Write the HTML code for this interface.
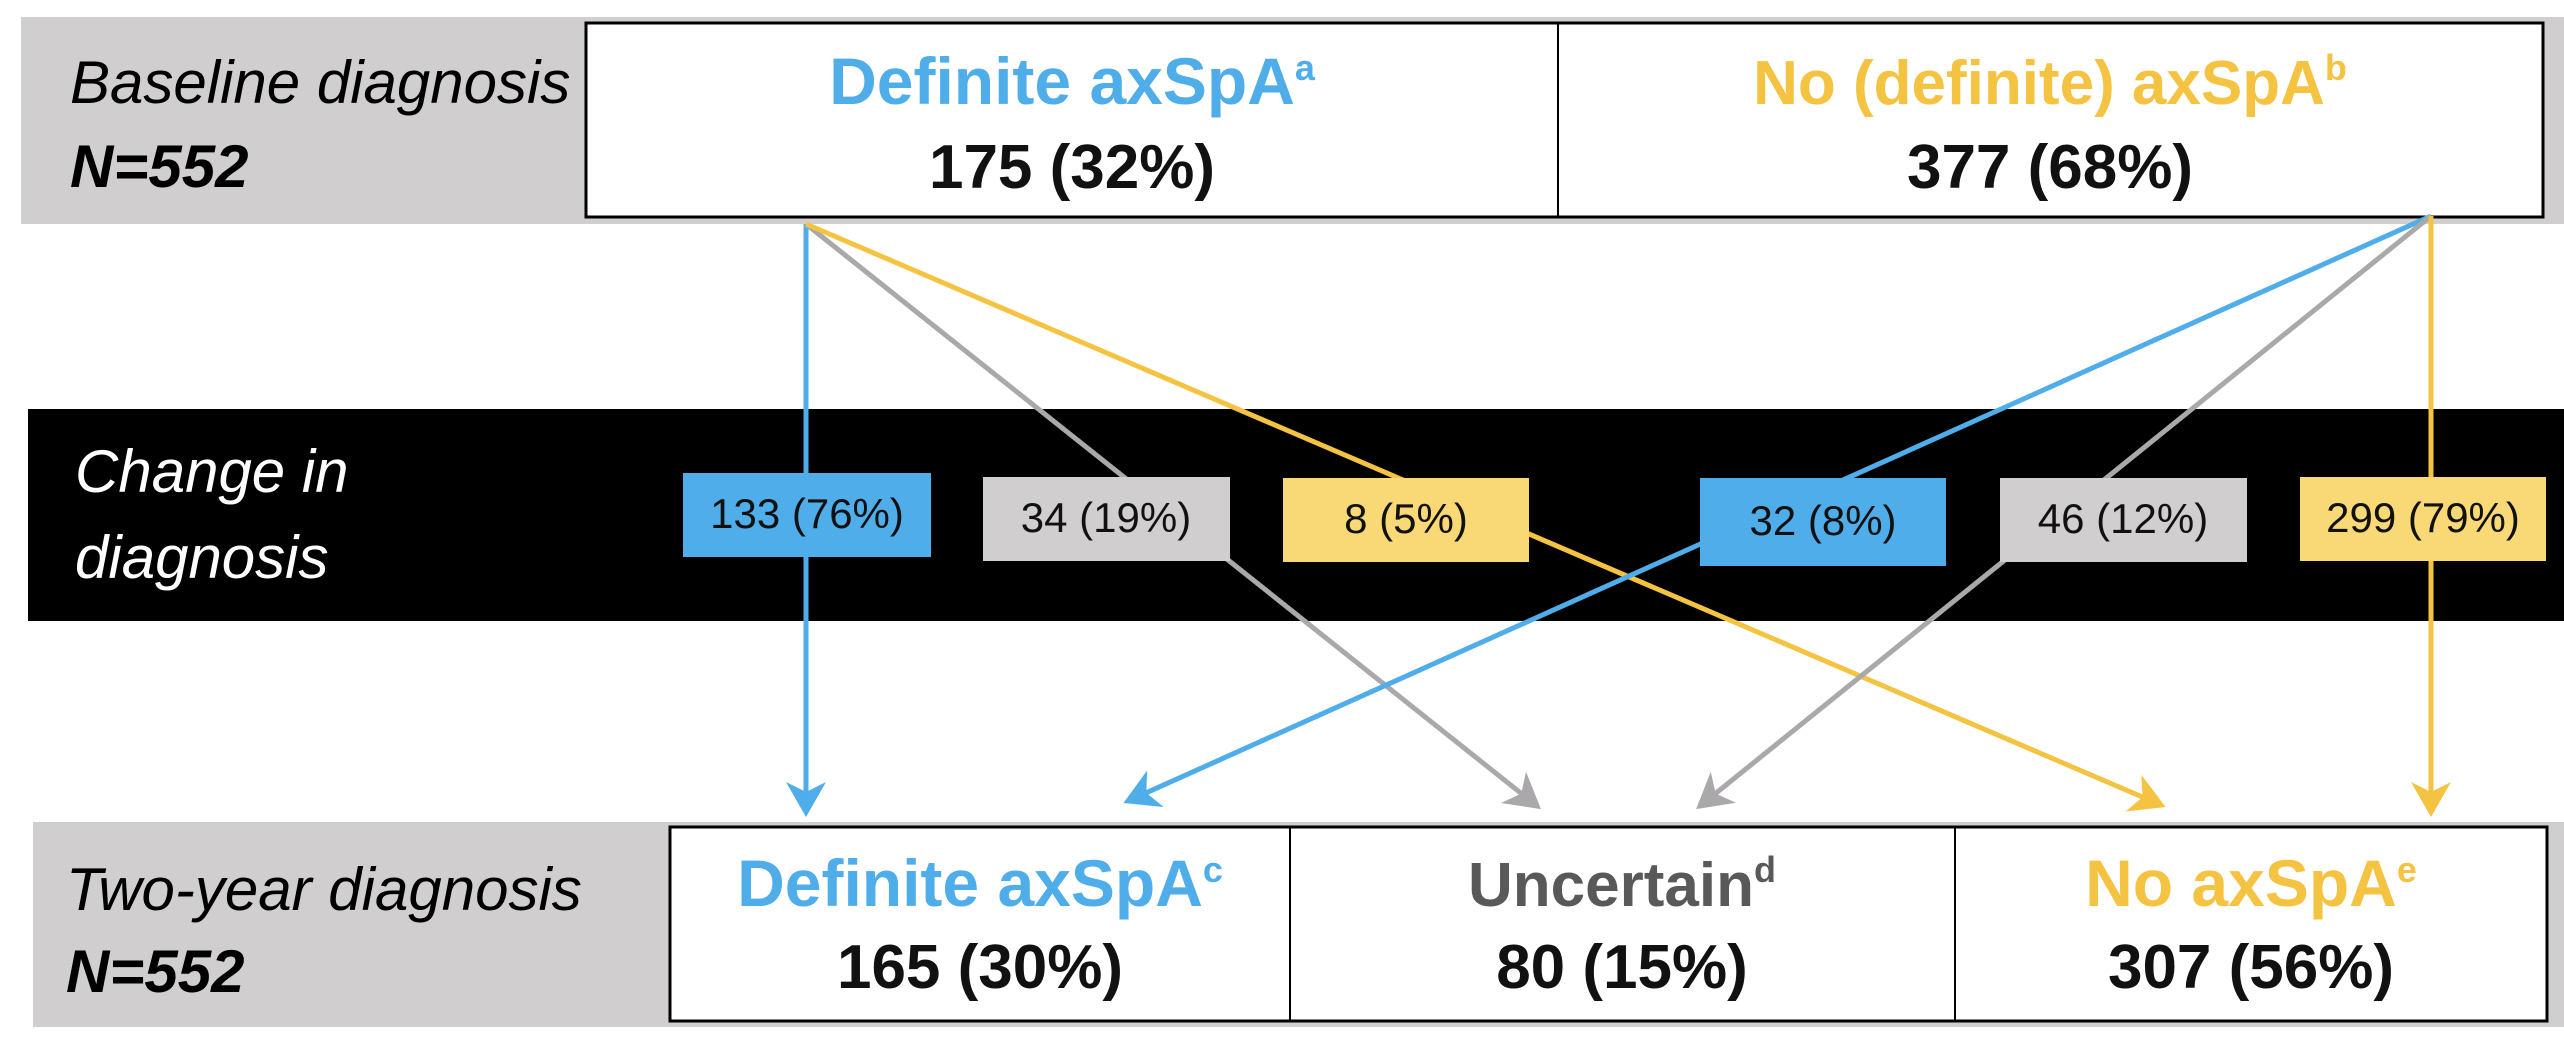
<!DOCTYPE html>
<html><head><meta charset="utf-8"><style>
body{margin:0;background:#fff;}
svg text{font-family:"Liberation Sans Narrow","Liberation Sans",sans-serif;}
</style></head><body>
<svg width="2564" height="1040" viewBox="0 0 2564 1040">
<defs>
<marker id="mb" markerWidth="8" markerHeight="8" refX="6" refY="4" orient="auto" markerUnits="strokeWidth"><path d="M0,0 L7,4 L0,8 L2,4 z" fill="#4fadea"/></marker>
<marker id="mg" markerWidth="8" markerHeight="8" refX="6" refY="4" orient="auto" markerUnits="strokeWidth"><path d="M0,0 L7,4 L0,8 L2,4 z" fill="#aaa8aa"/></marker>
<marker id="my" markerWidth="8" markerHeight="8" refX="6" refY="4" orient="auto" markerUnits="strokeWidth"><path d="M0,0 L7,4 L0,8 L2,4 z" fill="#f5c342"/></marker>
</defs>
<rect x="21" y="17" width="2543" height="207" fill="#d0cecf"/>
<rect x="28" y="409" width="2536" height="212" fill="#000"/>
<rect x="33" y="822" width="2531" height="205" fill="#d0cecf"/>
<g>
<text x="70" y="103" font-size="60" font-style="italic">Baseline diagnosis</text>
<text x="70" y="187" font-size="60" font-style="italic" font-weight="bold">N=552</text>
</g>
<rect x="586" y="23" width="1957" height="194" fill="#fff" stroke="#000" stroke-width="3"/>
<line x1="1558" y1="23" x2="1558" y2="217" stroke="#000" stroke-width="2"/>
<g text-anchor="middle" font-weight="bold" font-size="62">
<text x="1072" y="104" fill="#4fadea" font-size="66">Definite axSpA<tspan font-size="36" dy="-24">a</tspan></text>
<text x="1072" y="188" fill="#111">175 (32%)</text>
<text x="2050" y="104" fill="#f5c342">No (definite) axSpA<tspan font-size="36" dy="-24">b</tspan></text>
<text x="2050" y="188" fill="#111">377 (68%)</text>
</g>
<g>
<text x="75" y="492" font-size="60" font-style="italic" fill="#fff">Change in</text>
<text x="75" y="578" font-size="60" font-style="italic" fill="#fff">diagnosis</text>
</g>
<g stroke-width="5" fill="none">
<line x1="806" y1="224" x2="806" y2="812" stroke="#4fadea" marker-end="url(#mb)"/>
<line x1="806" y1="224" x2="1537" y2="806" stroke="#aaa8aa" marker-end="url(#mg)"/>
<line x1="806" y1="224" x2="2161" y2="805" stroke="#f5c342" marker-end="url(#my)"/>
<line x1="2431" y1="216" x2="1128" y2="801" stroke="#4fadea" marker-end="url(#mb)"/>
<line x1="2431" y1="216" x2="1700" y2="806" stroke="#aaa8aa" marker-end="url(#mg)"/>
<line x1="2431" y1="216" x2="2431" y2="812" stroke="#f5c342" marker-end="url(#my)"/>
</g>
<g font-size="42" text-anchor="middle" fill="#111">
<rect x="683" y="473" width="248" height="84" fill="#4fadea"/>
<text x="807" y="528">133 (76%)</text>
<rect x="983" y="477" width="247" height="84" fill="#d0cecf"/>
<text x="1106" y="532">34 (19%)</text>
<rect x="1283" y="478" width="246" height="84" fill="#f9d975"/>
<text x="1406" y="533">8 (5%)</text>
<rect x="1700" y="478" width="246" height="88" fill="#4fadea"/>
<text x="1823" y="535">32 (8%)</text>
<rect x="2000" y="478" width="247" height="84" fill="#d0cecf"/>
<text x="2123" y="533">46 (12%)</text>
<rect x="2300" y="477" width="246" height="84" fill="#f9d975"/>
<text x="2423" y="532">299 (79%)</text>
</g>
<g>
<text x="66" y="910" font-size="60" font-style="italic">Two-year diagnosis</text>
<text x="66" y="992" font-size="60" font-style="italic" font-weight="bold">N=552</text>
</g>
<rect x="670" y="827" width="1877" height="194" fill="#fff" stroke="#000" stroke-width="3"/>
<line x1="1290" y1="827" x2="1290" y2="1021" stroke="#000" stroke-width="2"/>
<line x1="1955" y1="827" x2="1955" y2="1021" stroke="#000" stroke-width="2"/>
<g text-anchor="middle" font-weight="bold" font-size="62">
<text x="980" y="906" fill="#4fadea" font-size="66">Definite axSpA<tspan font-size="36" dy="-24">c</tspan></text>
<text x="980" y="988" fill="#111">165 (30%)</text>
<text x="1622" y="906" fill="#595959">Uncertain<tspan font-size="36" dy="-24">d</tspan></text>
<text x="1622" y="988" fill="#111">80 (15%)</text>
<text x="2251" y="906" fill="#f5c342" font-size="66">No axSpA<tspan font-size="36" dy="-24">e</tspan></text>
<text x="2251" y="988" fill="#111">307 (56%)</text>
</g>
</svg>
</body></html>
